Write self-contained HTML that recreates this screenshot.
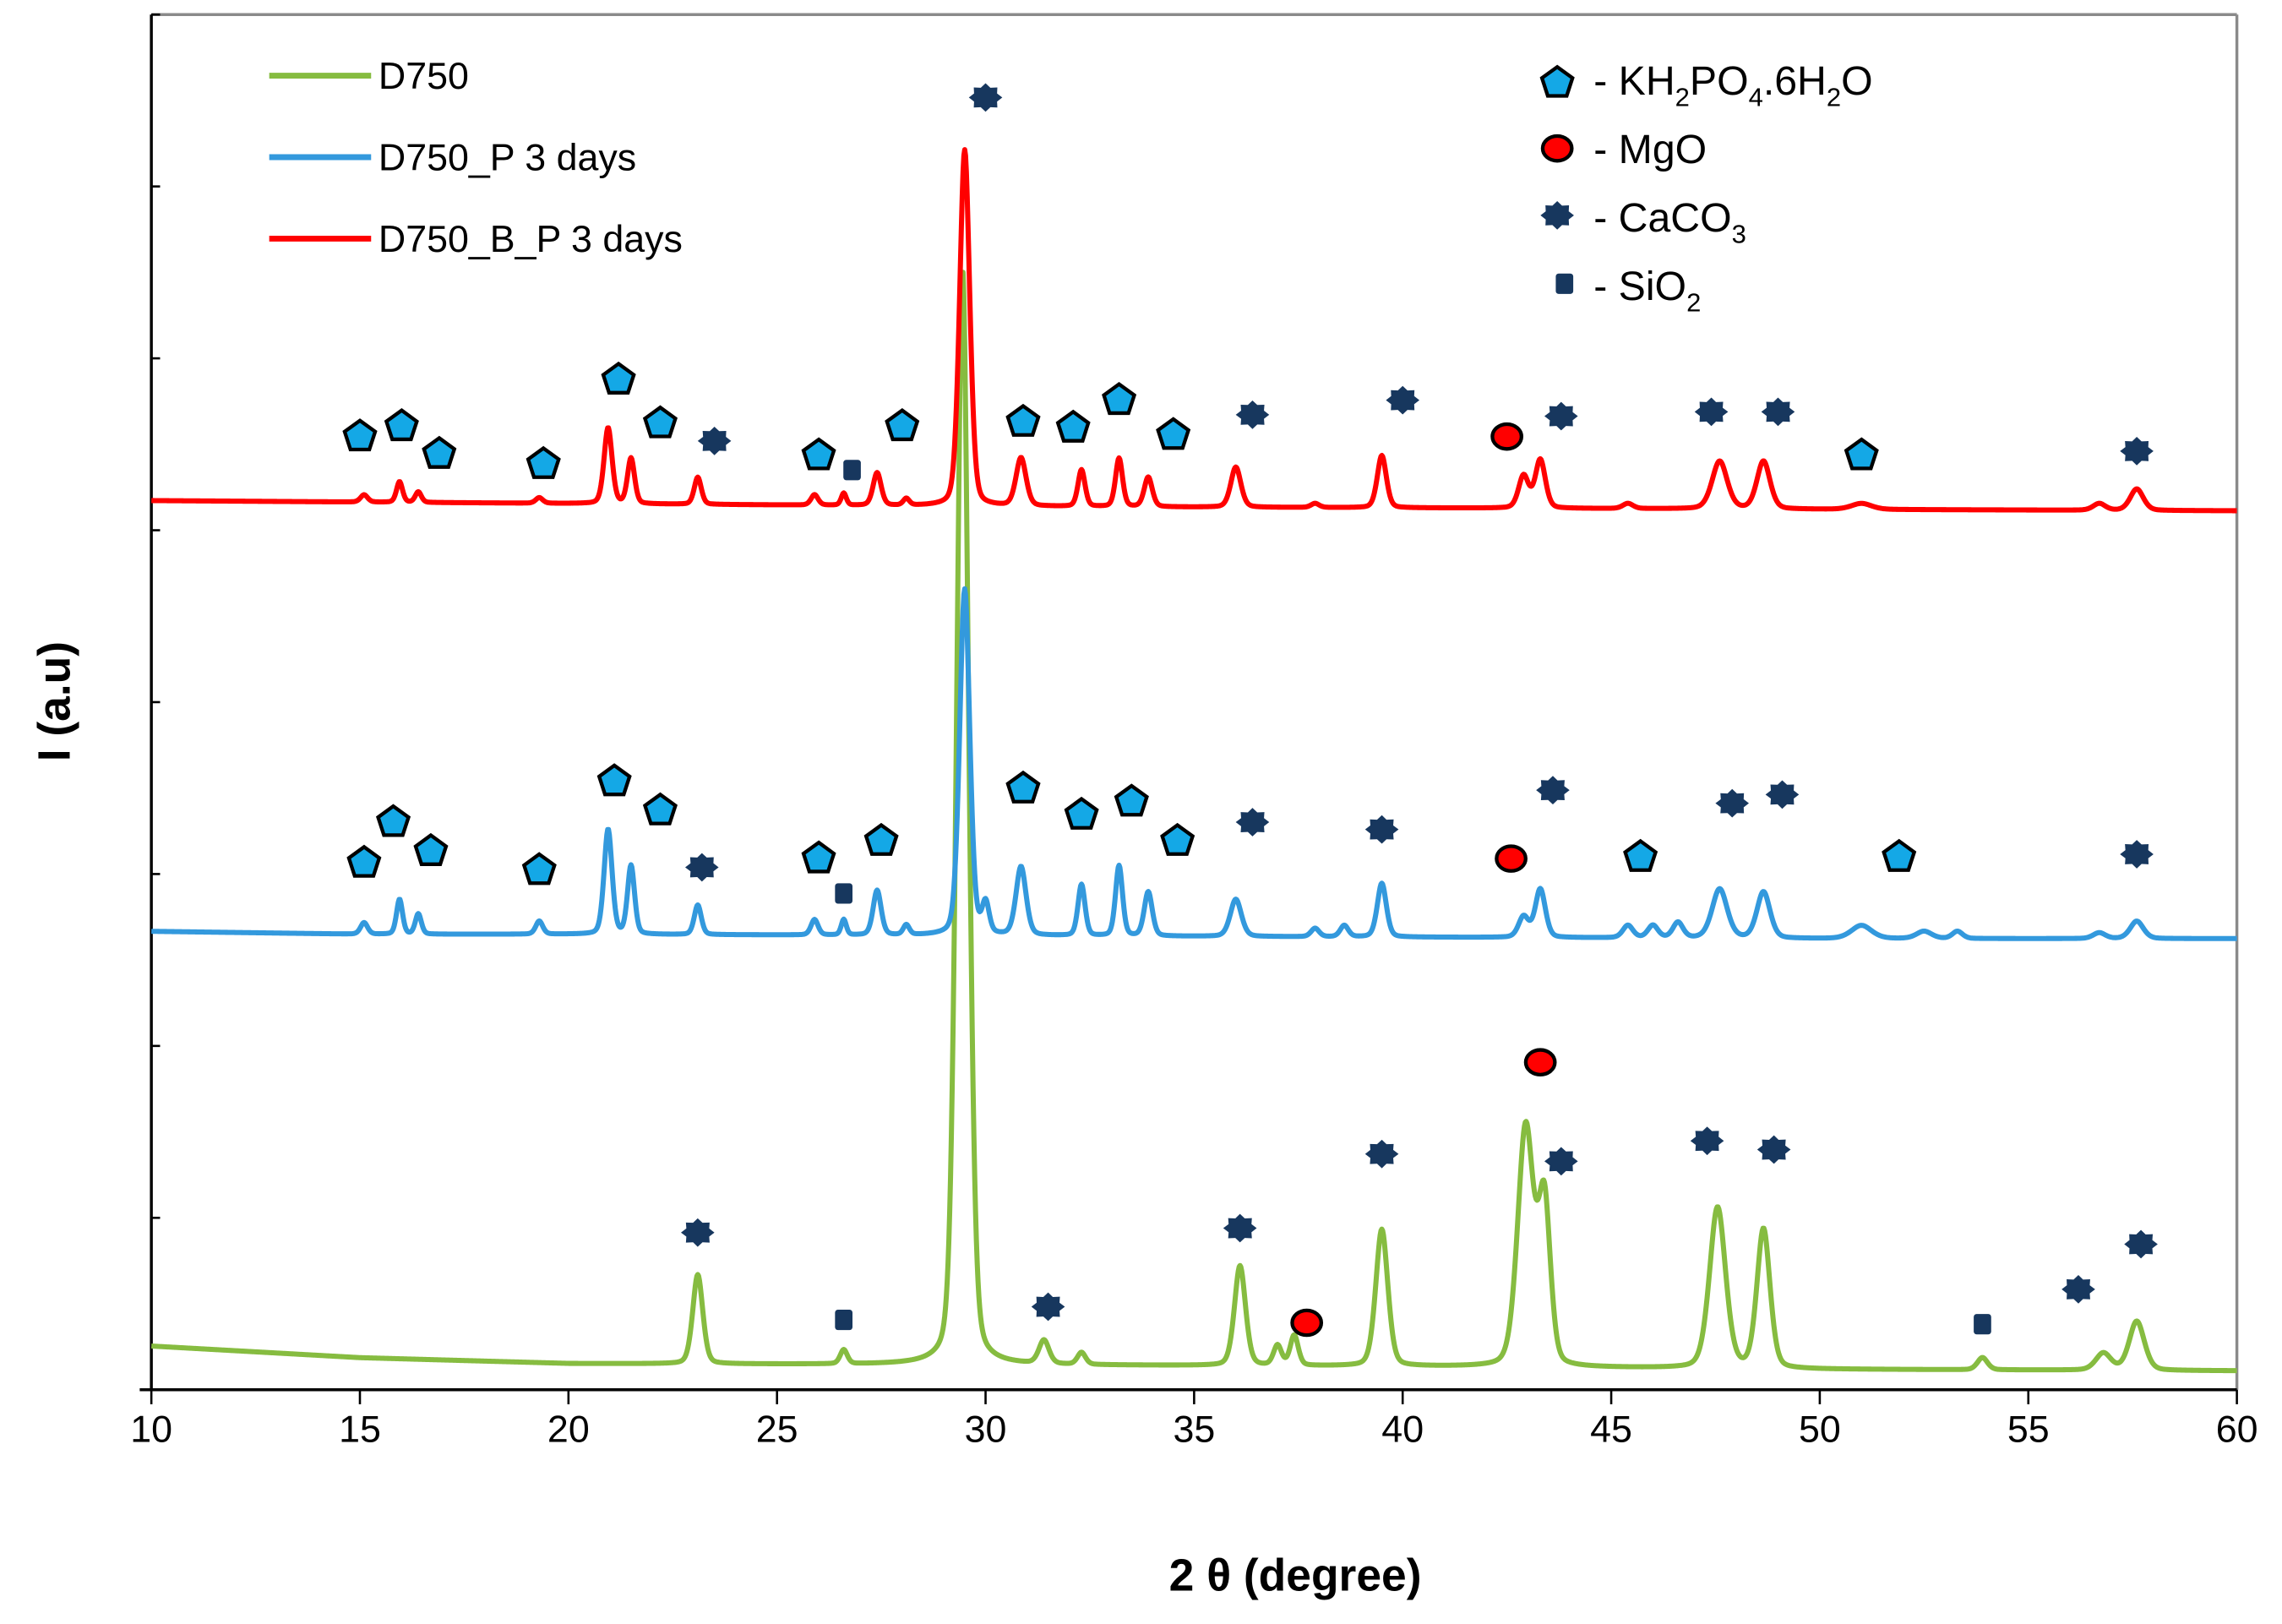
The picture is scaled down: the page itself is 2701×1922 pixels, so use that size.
<!DOCTYPE html>
<html><head><meta charset="utf-8"><style>
html,body{margin:0;padding:0;background:#fff;}
svg{display:block;}
text{font-family:"Liberation Sans",sans-serif;}
</style></head><body>
<svg id="chart" width="2701" height="1922" viewBox="0 0 1568 1116" preserveAspectRatio="none" xmlns="http://www.w3.org/2000/svg">
<rect x="0" y="0" width="1568" height="1116" fill="#fff"/>
<g id="frame"></g>
<g id="series"></g>
<g id="markers"></g>
<g id="legend">
  <line x1="185" y1="52" x2="255" y2="52" stroke="#86bc40" stroke-width="4"/>
  <text x="260" y="61" font-size="26">D750</text>
  <line x1="185" y1="108" x2="255" y2="108" stroke="#3399dd" stroke-width="4"/>
  <text x="260" y="117" font-size="26">D750_P 3 days</text>
  <line x1="185" y1="164" x2="255" y2="164" stroke="#ff0000" stroke-width="4"/>
  <text x="260" y="173" font-size="26">D750_B_P 3 days</text>
  <text x="1095" y="65" font-size="28">- KH<tspan font-size="18" dy="8">2</tspan><tspan dy="-8">PO</tspan><tspan font-size="18" dy="8">4</tspan><tspan dy="-8">.6H</tspan><tspan font-size="18" dy="8">2</tspan><tspan dy="-8">O</tspan></text>
  <text x="1095" y="112" font-size="28">- MgO</text>
  <text x="1095" y="159" font-size="28">- CaCO<tspan font-size="18" dy="8">3</tspan></text>
  <text x="1095" y="206" font-size="28">- SiO<tspan font-size="18" dy="8">2</tspan></text>
</g>
<text x="890" y="1093" font-size="31" font-weight="bold" text-anchor="middle">2 θ (degree)</text>
<text transform="translate(48,482) rotate(-90)" font-size="31" font-weight="bold" text-anchor="middle">I (a.u)</text>
</svg>
<script>
const xTicks = [10,15,20,25,30,35,40,45,50,55,60];
const baseX = [10,15,20,30,40,50,60];
const greenBase = [30,22,18,17,16,14,13];
const blueBase = [315,313,313,312,311,310,310];
const redBase = [611,610,609,607,606,605,604];
const greenPos = [23.1,26.6,29.45,31.4,32.3,36.1,37.0,37.4,39.5,42.95,43.4,47.55,48.65,53.9,56.8,57.6];
const greenTop = [79,27,770,33,25,85,30,37,110,180,125,125,110,22,25,47];
const greenSig = [0.1,0.07,0.12,0.1,0.08,0.11,0.08,0.08,0.12,0.16,0.12,0.16,0.13,0.1,0.15,0.15];
const bluePos = [15.1,15.95,16.4,19.3,20.95,21.5,23.1,25.9,26.6,27.4,28.1,29.5,30.0,30.85,32.3,33.2,33.9,36.0,37.9,38.6,39.5,42.9,43.3,45.4,46.0,46.6,47.6,48.65,51.0,52.5,53.3,56.7,57.6];
const blueTop = [321,337,327,322,385,360,333,323,323,343,319,550,333,359,347,360,342,337,317,319,348,325,344,319,319,321,344,342,319,315,315,314,322];
const blueSig = [0.07,0.06,0.06,0.07,0.08,0.07,0.07,0.07,0.05,0.08,0.06,0.1,0.07,0.1,0.07,0.07,0.08,0.11,0.08,0.08,0.09,0.1,0.1,0.1,0.1,0.1,0.15,0.13,0.2,0.15,0.1,0.12,0.13];
const redPos = [15.1,15.95,16.4,19.3,20.95,21.5,23.1,25.9,26.6,27.4,28.1,29.5,30.85,32.3,33.2,33.9,36.0,37.9,39.5,42.9,43.3,45.4,47.6,48.65,51.0,56.7,57.6];
const redTop = [615,624,617,613,661,640,627,615,616,630,612,852,640,632,640,627,634,609,642,628,639,609,638,638,609,609,619];
const redSig = [0.07,0.06,0.06,0.07,0.08,0.07,0.07,0.07,0.05,0.08,0.06,0.1,0.1,0.07,0.07,0.08,0.1,0.08,0.09,0.1,0.1,0.1,0.15,0.13,0.2,0.12,0.13];
const pentX = [15.0,16.0,16.9,19.4,21.2,22.2,26.0,28.0,30.9,32.1,33.2,34.5,51.0, 15.1,15.8,16.7,19.3,21.1,22.2,26.0,27.5,30.9,32.3,33.5,34.6,45.7,51.9];
const pentY = [655,662,643,636,694,664,642,662,665,661,680,656,642, 362,390,370,357,418,398,365,377,413,395,404,377,366,366];
const caco3X = [23.5,30.0,36.4,40.0,43.8,47.4,49.0,57.6, 23.2,36.4,39.5,43.6,47.9,49.1,57.6, 23.1,36.1,39.5,43.8,47.3,48.9,31.5,56.2,57.7];
const caco3Y = [652,888,670,680,669,672,672,645, 359,390,385,412,403,409,368, 108,111,162,157,171,165,57,69,100];
const sio2X = [26.8,26.6,26.6,53.9];
const sio2Y = [632,341,48,45];
const mgoX = [42.5,42.6,37.7,43.3];
const mgoY = [655,365,46,225];

const NS='http://www.w3.org/2000/svg';
const L=104,R=1537,T=10,B=955;
const sigScale=1.25;
function xs(v){return L+(v-10)*(R-L)/50;}
function ys(v){return B-v;}
function mk(tag,attrs,parent){const e=document.createElementNS(NS,tag);for(const k in attrs)e.setAttribute(k,attrs[k]);parent.appendChild(e);return e;}
const frame=document.getElementById('frame');
let e;
e=mk('line',{x1:L,y1:T,x2:R,y2:T,stroke:'#8a8a8a','stroke-width':2},frame);


e=mk('line',{x1:R,y1:T,x2:R,y2:B,stroke:'#8a8a8a','stroke-width':2},frame);


e=mk('line',{x1:L,y1:T,x2:L,y2:B,stroke:'#000','stroke-width':2},frame);


e=mk('line',{x1:L-8,y1:B,x2:R,y2:B,stroke:'#000','stroke-width':2},frame);


for(let i=0;i<8;i++){const y=T+i*(B-T)/8;
 e=mk('line',{x1:L,y1:y,x2:L+6,y2:y,stroke:'#000','stroke-width':1.5},frame);
 
 }
xTicks.forEach(t=>{
 e=mk('line',{x1:xs(t),y1:B,x2:xs(t),y2:B+10,stroke:'#000','stroke-width':1.5},frame);
 
 
 e=mk('text',{x:xs(t),y:B+36,'font-size':26,'text-anchor':'middle'},frame);
 e.textContent=t;
 
 
});
function interp(x,bx,by){for(let i=0;i<bx.length-1;i++){if(x<=bx[i+1]){const f=(x-bx[i])/(bx[i+1]-bx[i]);return by[i]+f*(by[i+1]-by[i]);}}return by[by.length-1];}
function curve(base,pos,top,sig){let d='';for(let x=10;x<=60.0001;x+=0.02){let v=interp(x,baseX,base);for(let k=0;k<pos.length;k++){const h=top[k]-interp(pos[k],baseX,base);const z=(x-pos[k])/(sig[k]*sigScale);v+=h*(0.7*Math.exp(-0.5*z*z)+0.3/(1+z*z));}d+=(d?'L':'M')+xs(x).toFixed(2)+','+ys(v).toFixed(2);}return d;}
const sg=document.getElementById('series');
e=mk('path',{d:curve(greenBase,greenPos,greenTop,greenSig),fill:'none',stroke:'#86bc40','stroke-width':3.5,'stroke-linejoin':'round'},sg);


e=mk('path',{d:curve(blueBase,bluePos,blueTop,blueSig),fill:'none',stroke:'#3399dd','stroke-width':3.5,'stroke-linejoin':'round'},sg);


e=mk('path',{d:curve(redBase,redPos,redTop,redSig),fill:'none',stroke:'#ff0000','stroke-width':3.5,'stroke-linejoin':'round'},sg);


const mg=document.getElementById('markers');
function pent(cx,cy,r){let p=[];for(let i=0;i<5;i++){const a=-Math.PI/2+i*2*Math.PI/5;p.push((cx+r*Math.cos(a)).toFixed(1)+','+(cy+r*Math.sin(a)).toFixed(1));}return p.join(' ');}
function star(cx,cy){let p=[];for(let i=0;i<16;i++){const a=i*Math.PI/8;const r=i%2?8.5:11.5;p.push((cx+r*Math.cos(a)).toFixed(1)+','+(cy+r*0.85*Math.sin(a)).toFixed(1));}return p.join(' ');}
pentX.forEach((x,i)=>{e=mk('polygon',{points:pent(xs(x),ys(pentY[i]),11),fill:'#14a8e6',stroke:'#000','stroke-width':2.5},mg);
 
 });
caco3X.forEach((x,i)=>{e=mk('polygon',{points:star(xs(x),ys(caco3Y[i])),fill:'#17375e'},mg);
 
 });
sio2X.forEach((x,i)=>{e=mk('rect',{x:xs(x)-6,y:ys(sio2Y[i])-7,width:12,height:14,rx:2,fill:'#17375e'},mg);
 
 });
mgoX.forEach((x,i)=>{e=mk('ellipse',{cx:xs(x),cy:ys(mgoY[i]),rx:10,ry:8.5,fill:'#ff0000',stroke:'#000','stroke-width':2.5},mg);
 
 });
const lg=document.getElementById('legend');
e=mk('polygon',{points:pent(1070,57,11),fill:'#14a8e6',stroke:'#000','stroke-width':2.5},lg);


e=mk('ellipse',{cx:1070,cy:102,rx:10,ry:8.5,fill:'#ff0000',stroke:'#000','stroke-width':2.5},lg);


e=mk('polygon',{points:star(1070,148),fill:'#17375e'},lg);


e=mk('rect',{x:1069,y:188,width:12,height:14,rx:2,fill:'#17375e'},lg);


</script>
</body></html>
